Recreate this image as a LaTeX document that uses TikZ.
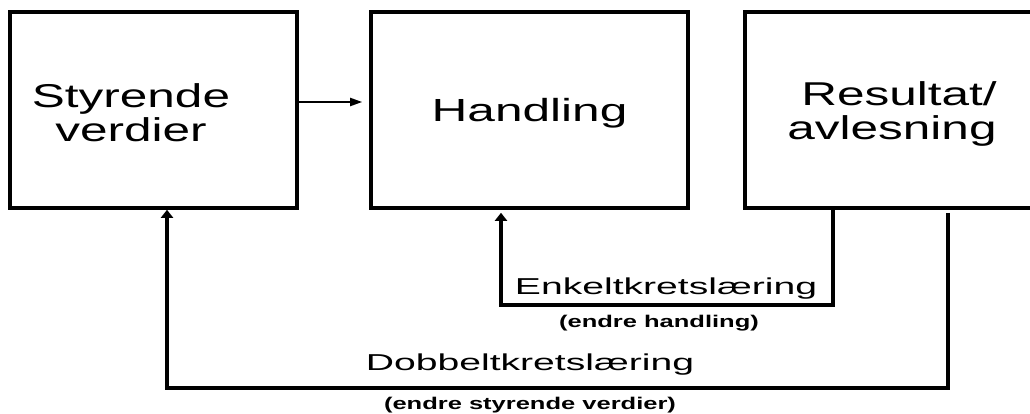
\documentclass[tikz,border=0pt]{standalone}
\usepackage{fontspec}
\setmainfont{Liberation Sans}
\newfontfamily\boxfont[FakeStretch=1.5]{Liberation Sans}
\newfontfamily\handfont[FakeStretch=1.55]{Liberation Sans}
\newfontfamily\loopfont[FakeStretch=1.7]{Liberation Sans}
\newfontfamily\notefont[FakeStretch=1.5]{Liberation Sans}
\usetikzlibrary{arrows.meta}
\begin{document}
\begin{tikzpicture}[x=1pt,y=-1pt,
  box/.style={draw, line width=3.6pt, inner sep=0pt, minimum height=196pt},
  boxtext/.style={anchor=base, inner sep=0pt, font=\boxfont\fontsize{33}{33}\selectfont},
  handtext/.style={anchor=base, inner sep=0pt, font=\handfont\fontsize{32}{32}\selectfont},
  looptext/.style={anchor=base, inner sep=0pt, font=\loopfont\fontsize{23}{23}\selectfont},
  notetext/.style={anchor=base, inner sep=0pt, font=\notefont\bfseries\fontsize{17}{17}\selectfont},
  feed/.style={line width=2pt, -{Triangle[length=12pt,width=8pt]}},
  loopline/.style={line width=3.6pt, line join=miter},
  looparrow/.style={loopline, -{Triangle[length=8pt,width=12pt]}}]
\useasboundingbox (0,0) rectangle (1030,414);
\clip (0,0) rectangle (1030,414);

% the three boxes
\node[box, minimum width=287pt] (b1) at (153.5,110) {};
\node[box, minimum width=317pt] (b2) at (529.5,110) {};
\node[box, minimum width=289pt] (b3) at (889.5,110) {};

% box labels
\node[boxtext] (s1) at (131,108) {Styrende};
\node[boxtext] (s2) at (131,142) {verdier};
\node[handtext] (h1) at (529.5,122) {Handling};
\node[boxtext] (r1) at (899,106) {Resultat/};
\node[boxtext] (r2) at (892,140) {avlesning};

% forward arrow
\draw[feed] ([yshift=8pt]b1.east) -- ([yshift=8pt,xshift=-7pt]b2.west);

% single-loop learning
\draw[looparrow, shorten >=3pt] ([xshift=-56.5pt]b3.south) -- ++(0,95)
  -| ([xshift=-28.5pt]b2.south);
\node[looptext] (e1) at (666,294) {Enkeltkretslæring};
\node[notetext] (e2) at (659,327) {(endre handling)};

% double-loop learning
\draw[looparrow] ([xshift=58.5pt,yshift=-3pt]b3.south) -- ++(0,175)
  -| ([xshift=13.5pt]b1.south);
\node[looptext] (d1) at (530,370) {Dobbeltkretslæring};
\node[notetext] (d2) at (530,409) {(endre styrende verdier)};
\end{tikzpicture}
\end{document}
